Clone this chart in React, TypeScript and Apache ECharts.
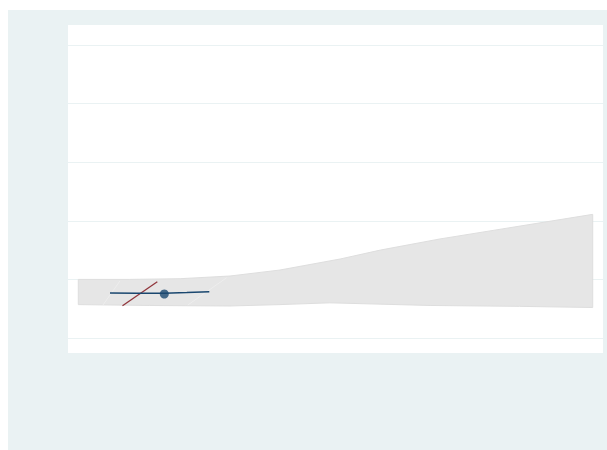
import React, { useEffect, useRef } from "react";
import * as echarts from "echarts";

// Confidence band (upper and lower bounds)
const bandUpperX = [0, 1.0, 1.98, 2.95, 3.92, 5.09, 5.87, 7.03, 10];
const bandUpperY = [1.0, 1.0, 1.012, 1.058, 1.16, 1.348, 1.5, 1.69, 2.11];
const bandLowerX = [0, 1.39, 2.95, 3.92, 4.89, 6.84, 8.58, 10];
const bandLowerY = [0.57, 0.555, 0.546, 0.57, 0.6, 0.555, 0.54, 0.52];

// Faint inner outline lines
const faintLine1 = [[0.48, 0.563], [0.81, 0.973]];
const faintLine2 = [[2.13, 0.563], [2.885, 1.03]];

// Fitted line (navy)
const fitX = [0.616, 1.14, 1.672, 2.11, 2.547];
const fitY = [0.768, 0.765, 0.763, 0.775, 0.79];

// Point estimate
const pointX = [1.672];
const pointY = [0.751];

// Red reference line
const redX = [0.859, 1.536];
const redY = [0.551, 0.961];

const yTicks = [0, 1, 2, 3, 4, 5];

export default function App() {
  const ref = useRef<HTMLDivElement>(null);
  useEffect(() => {
    if (!ref.current) return;
    const chart = echarts.init(ref.current, null, { renderer: "svg" });
    const upper = bandUpperX.map((x, i) => [x, bandUpperY[i]]);
    const lower = bandLowerX.map((x, i) => [x, bandLowerY[i]]);
    const polyPts = [...upper, ...lower.slice().reverse()];
    chart.setOption({
      animation: false,
      backgroundColor: "#eaf2f3",
      graphic: [
        {
          type: "rect",
          z: -100,
          shape: { x: 60, y: 15, width: 535, height: 328 },
          style: { fill: "#ffffff" },
          silent: true,
        },
      ],
      grid: { left: 60, right: 4, top: 35, bottom: 112 },
      xAxis: {
        type: "value",
        min: -0.2,
        max: 10.2,
        show: true,
        axisLine: { show: false },
        axisTick: { show: false },
        axisLabel: { show: false },
        splitLine: { show: false },
      },
      yAxis: {
        type: "value",
        min: yTicks[0],
        max: yTicks[yTicks.length - 1],
        interval: 1,
        axisLine: { show: false },
        axisTick: { show: false },
        axisLabel: { show: false },
        splitLine: { show: true, lineStyle: { color: "#eaf2f3", width: 1 } },
      },
      series: [
        {
          type: "custom",
          z: 1,
          data: [0],
          renderItem: (params: any, api: any) => {
            const points = polyPts.map((p) => api.coord(p));
            return {
              type: "polygon",
              shape: { points },
              style: { fill: "#e6e6e6", stroke: "#dedede", lineWidth: 1 },
            };
          },
          silent: true,
        },
        {
          type: "line",
          data: faintLine1,
          symbol: "none",
          lineStyle: { color: "#eeeeee", width: 1 },
          z: 2,
          silent: true,
        },
        {
          type: "line",
          data: faintLine2,
          symbol: "none",
          lineStyle: { color: "#eeeeee", width: 1 },
          z: 2,
          silent: true,
        },
        {
          type: "line",
          data: redX.map((x, i) => [x, redY[i]]),
          symbol: "none",
          lineStyle: { color: "#90353b", width: 1.3 },
          z: 3,
        },
        {
          type: "line",
          data: fitX.map((x, i) => [x, fitY[i]]),
          symbol: "none",
          lineStyle: { color: "#1a476f", width: 1.5 },
          z: 4,
        },
        {
          type: "scatter",
          data: pointX.map((x, i) => [x, pointY[i]]),
          symbol: "circle",
          symbolSize: 9,
          itemStyle: { color: "#1a476f" },
          z: 5,
        },
      ],
    });
    return () => chart.dispose();
  }, []);
  return (
    <div
      ref={ref}
      style={{ position: "absolute", left: 8, top: 10, width: 599, height: 440 }}
    />
  );
}
